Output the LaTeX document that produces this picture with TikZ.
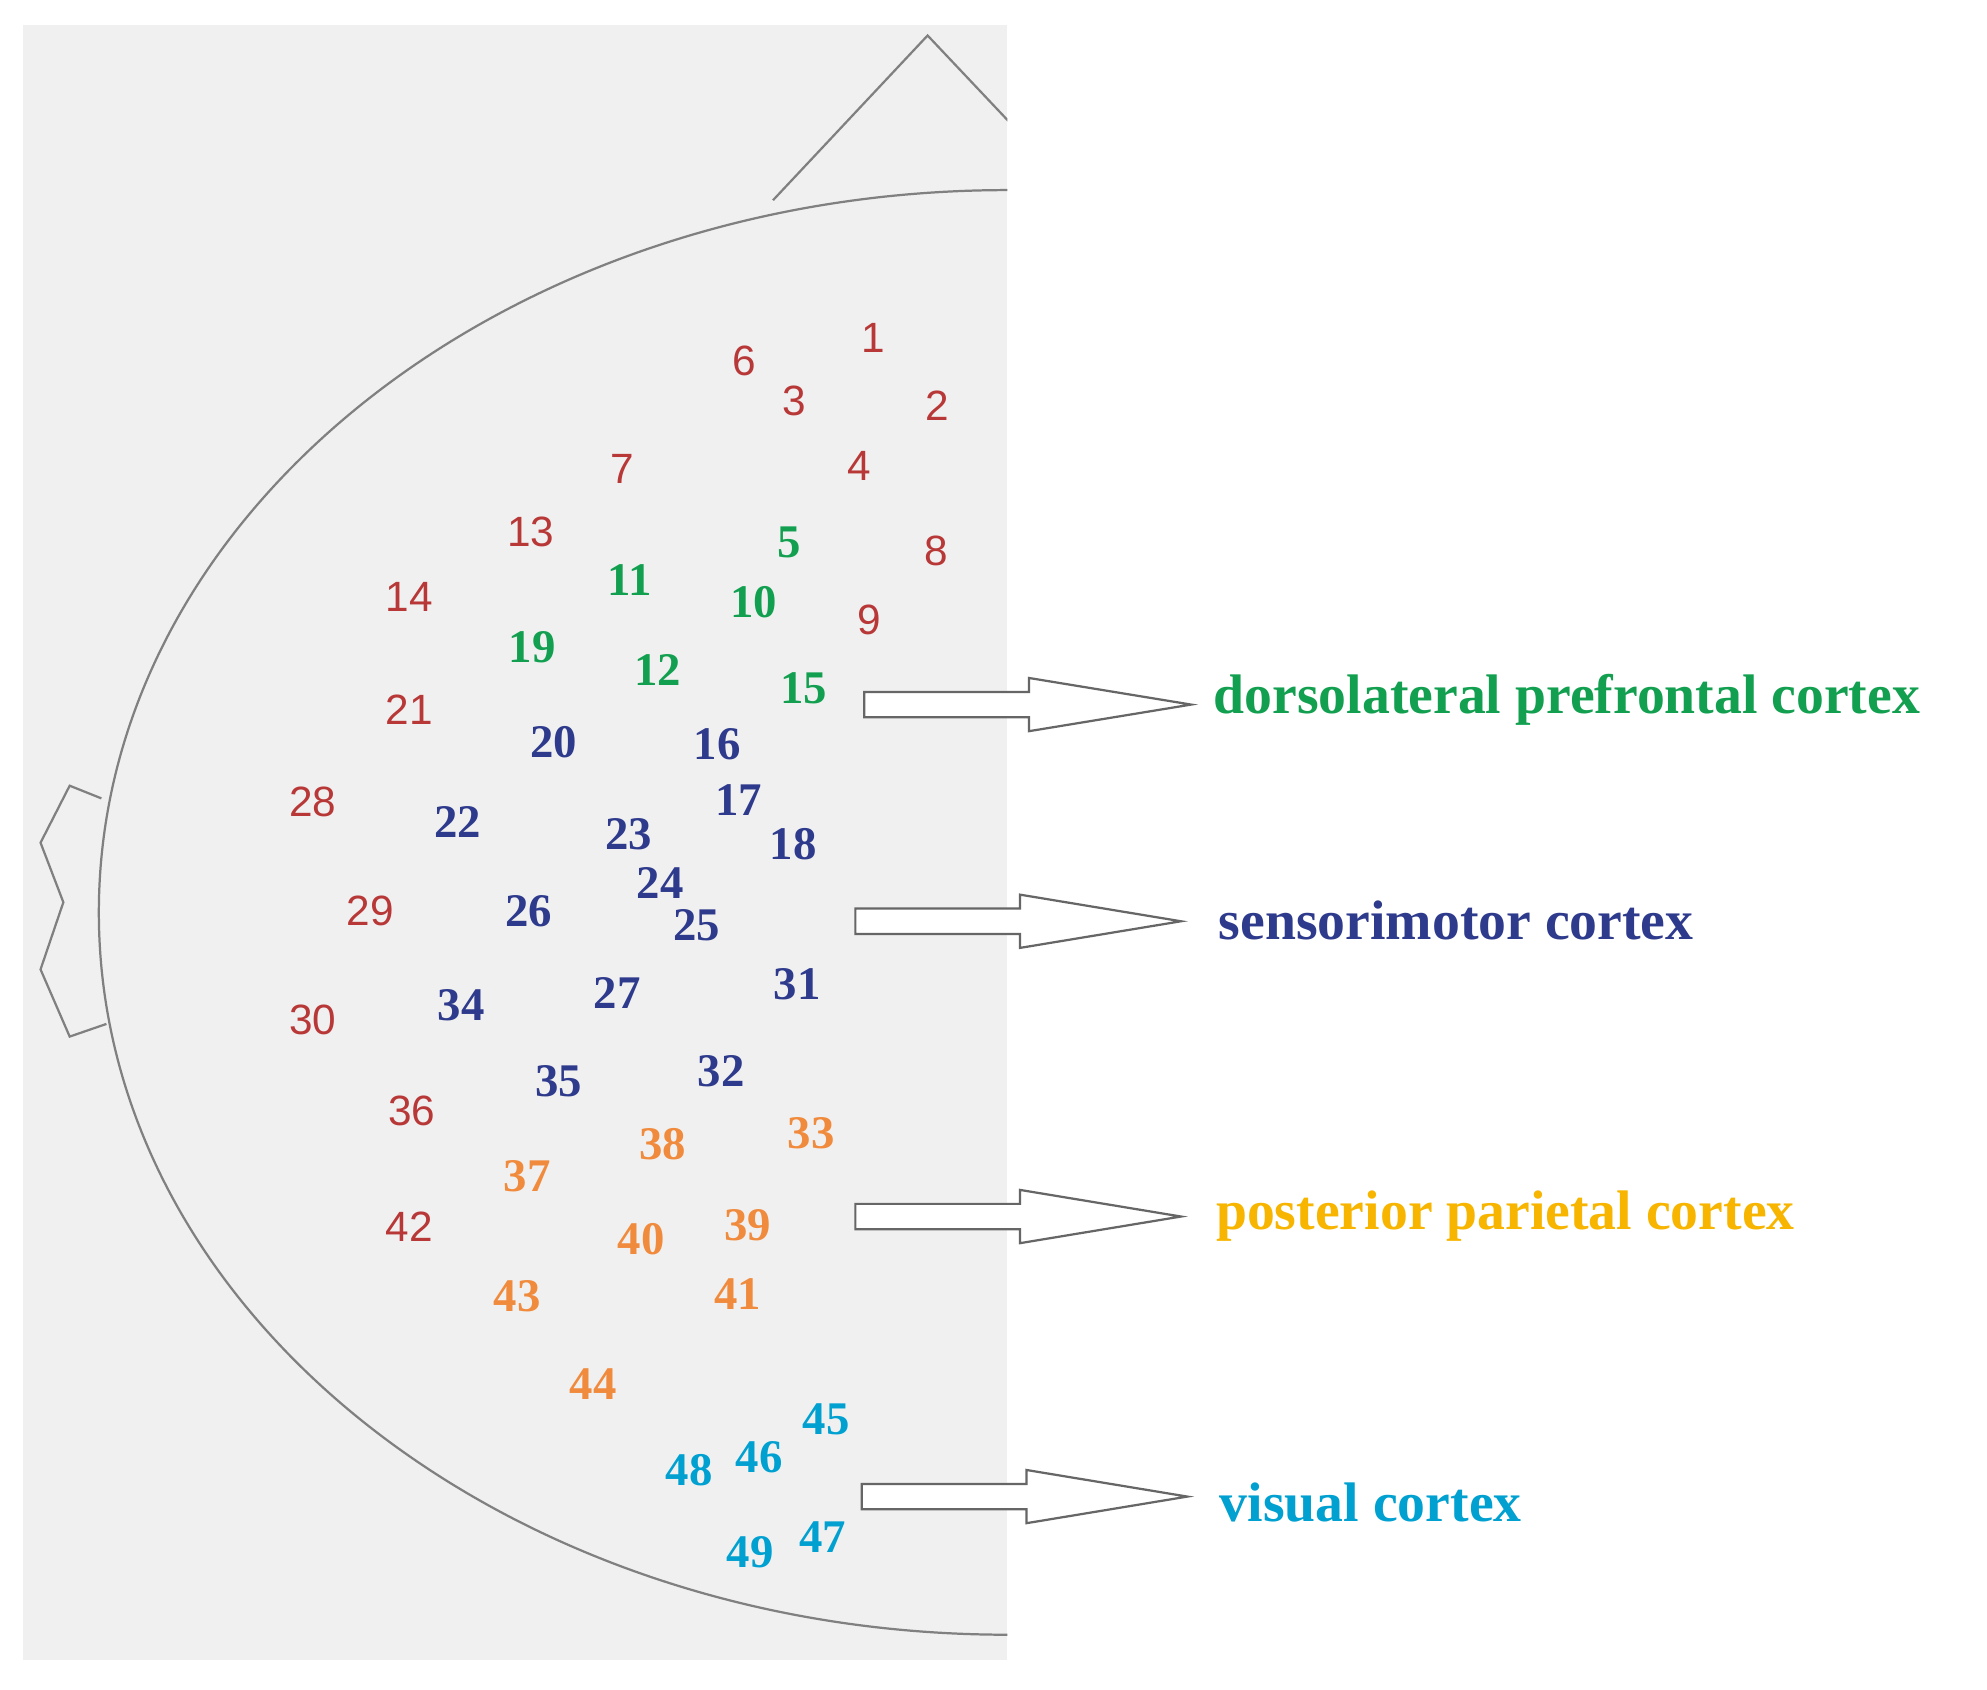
\documentclass[tikz,border=0pt]{standalone}
\usepackage{fontspec}
\setmainfont{Liberation Serif}
\newfontfamily\sansf{Liberation Sans}
\begin{document}
\begin{tikzpicture}[x=0.01cm,y=-0.01cm,
 rd/.style={text=myred,font=\sansf\fontsize{9.5}{10}\selectfont,inner sep=0},
 gr/.style={text=mygreen,font=\bfseries\fontsize{10.5}{11}\selectfont,inner sep=0},
 bl/.style={text=myblue,font=\bfseries\fontsize{10.5}{11}\selectfont,inner sep=0},
 orn/.style={text=myorange,font=\bfseries\fontsize{10.5}{11}\selectfont,inner sep=0},
 cy/.style={text=mycyan,font=\bfseries\fontsize{10.5}{11}\selectfont,inner sep=0},
 lab/.style={font=\bfseries\fontsize{12.5}{13}\selectfont,anchor=west,inner sep=0},
 blockarrow/.style={draw=black!60,fill=white,line width=0.5pt}]
\definecolor{myred}{HTML}{B83838}
\definecolor{mygreen}{HTML}{12A050}
\definecolor{myblue}{HTML}{2E3A8C}
\definecolor{myorange}{HTML}{F08A3C}
\definecolor{mycyan}{HTML}{00A0D0}
\definecolor{myyellow}{HTML}{F7B500}
\useasboundingbox (0,0) rectangle (1568,1333);
\fill[white] (0,0) rectangle (1568,1333);
\fill[black!6] (18,20) rectangle (795,1310);
\begin{scope}
\clip (18,20) rectangle (795,1310);
\draw[black!50,line width=0.5pt] (795,720) ellipse [x radius=717,y radius=570];
\draw[black!50,line width=0.5pt] (610,158) -- (732,28) -- (800,100);
\draw[black!50,line width=0.5pt] (80,630) -- (55,620) -- (32,665) -- (50,712) -- (32,765) -- (55,818) -- (84,808);
\end{scope}
% red
\foreach \n/\x/\y in {1/689/267,6/587/285,3/627/316,2/740/320,7/491/370,4/678/368,13/419/420,8/739/435,14/323/471,9/686/489,21/323/560,28/247/633,29/292/719,30/247/805,36/325/877,42/323/968}
 \node[rd] (n\n) at (\x,\y) {\n};
\foreach \n/\x/\y in {5/623/428,11/497/458,10/595/475,19/420/511,12/519/529,15/634/543}
 \node[gr] (n\n) at (\x,\y) {\n};
\foreach \n/\x/\y in {20/437/586,16/566/587,17/583/631,22/361/649,23/496/658,18/626/666,24/521/697,26/417/719,25/550/730,31/629/777,27/487/784,34/364/793,32/569/845,35/441/853}
 \node[bl] (n\n) at (\x,\y) {\n};
\foreach \n/\x/\y in {33/640/894,38/523/903,37/416/928,39/590/967,40/506/978,43/408/1023,41/582/1021,44/468/1092}
 \node[orn] (n\n) at (\x,\y) {\n};
\foreach \n/\x/\y in {45/652/1120,46/599/1150,48/544/1160,47/649/1213,49/592/1225}
 \node[cy] (n\n) at (\x,\y) {\n};
% arrows
\foreach \x/\y/\t in {682/556/940,675/727/932,675/960/932,680/1181/937}
 \draw[blockarrow] (\x,\y-10) -- (\x+130,\y-10) -- (\x+130,\y-21) -- (\t,\y) -- (\x+130,\y+21) -- (\x+130,\y+10) -- (\x,\y+10) -- cycle;
\node[lab,text=mygreen] (l1) at (957,552) {dorsolateral prefrontal cortex};
\node[lab,text=myblue] (l2) at (961,726) {sensorimotor cortex};
\node[lab,text=myyellow] (l3) at (959,960) {posterior parietal cortex};
\node[lab,text=mycyan] (l4) at (962,1186) {visual cortex};
\end{tikzpicture}
\end{document}
